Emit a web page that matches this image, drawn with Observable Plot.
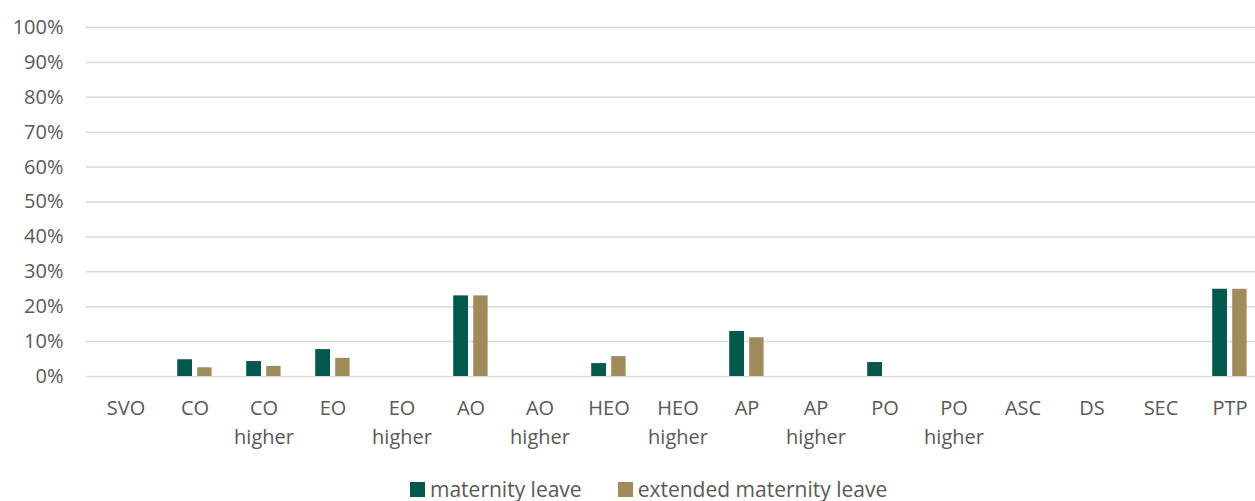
<!DOCTYPE html>
<html><head><meta charset="utf-8">
<script src="https://cdn.jsdelivr.net/npm/d3@7"></script>
<script src="https://cdn.jsdelivr.net/npm/@observablehq/plot@0.6"></script>
<style>
html,body{margin:0;padding:0;background:#fff;overflow:hidden;width:1255px;height:501px;}
#chart{position:absolute;left:0;top:0;}
#legend{position:absolute;left:410px;top:475px;height:28px;display:flex;align-items:center;font-family:"Open Sans",sans-serif;font-size:21px;color:#595959;white-space:nowrap;}
.item{display:flex;align-items:center;margin-right:36px;}
.sw{width:15px;height:15px;margin-right:5px;}
</style></head><body><div id="chart"></div><div id="legend"></div>
<script>
const categories = ["SVO","CO","CO\nhigher","EO","EO\nhigher","AO","AO\nhigher","HEO","HEO\nhigher","AP","AP\nhigher","PO","PO\nhigher","ASC","DS","SEC","PTP"];
const maternity = [0,4.8,4.3,7.7,0,23.1,0,3.7,0,12.9,0,4.0,0,0,0,0,25];
const extended  = [0,2.5,2.9,5.2,0,23.1,0,5.7,0,11.1,0,0,0,0,0,0,25];
const seriesNames = ["maternity leave","extended maternity leave"];
const seriesColors = ["#00594C","#A08C5B"];
const yTicks = [0,10,20,30,40,50,60,70,80,90,100];

const matRows = categories.map((c,i)=>({cat:c, value:maternity[i]}));
const extRows = categories.map((c,i)=>({cat:c, value:extended[i]}));

const plot = Plot.plot({
  width: 1255,
  height: 470,
  marginLeft: 86,
  marginRight: 0,
  marginTop: 27,
  marginBottom: 94,
  style: {fontFamily: "Open Sans, sans-serif", fontSize: "20px", color: "#595959", background: "#fff"},
  x: {domain: categories, range: [86, 1269.2], padding: 0},
  y: {domain: [0, 100]},
  marks: [
    Plot.ruleY(yTicks, {stroke: "#d9d9d9", strokeWidth: 1.5}),
    Plot.barY(matRows.filter(d=>d.value>0), {x: "cat", y: "value", fill: seriesColors[0], insetLeft: 17.2, insetRight: 37}),
    Plot.barY(extRows.filter(d=>d.value>0), {x: "cat", y: "value", fill: seriesColors[1], insetLeft: 37.2, insetRight: 17.4}),
    Plot.axisY({ticks: yTicks, tickSize: 0, tickPadding: 23, tickFormat: d => d + "%", label: null, fill: "#595959"}),
    Plot.axisX({tickSize: 0, tickPadding: 18, label: null, lineHeight: 1.45, fill: "#595959"})
  ]
});
document.getElementById("chart").appendChild(plot);

const legend = document.getElementById("legend");
seriesNames.forEach((n,i)=>{
  const it = document.createElement("div"); it.className="item";
  const sw = document.createElement("div"); sw.className="sw"; sw.style.background = seriesColors[i];
  const t = document.createElement("span"); t.textContent = n;
  it.appendChild(sw); it.appendChild(t); legend.appendChild(it);
});
</script></body></html>
